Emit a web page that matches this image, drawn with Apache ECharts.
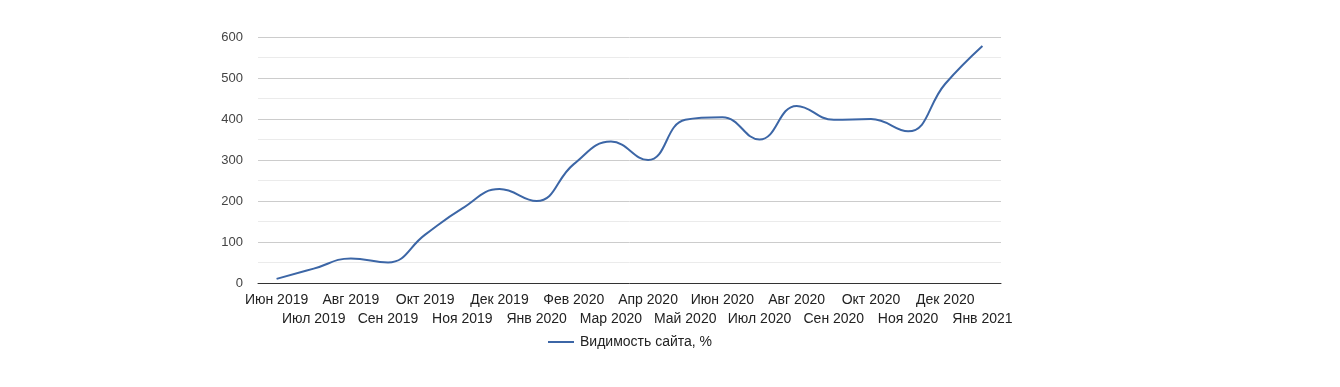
<!DOCTYPE html>
<html>
<head>
<meta charset="utf-8">
<script src="https://cdn.jsdelivr.net/npm/echarts@6/dist/echarts.min.js"></script>
<style>
html,body{margin:0;padding:0;background:#fff;}
#c{width:1340px;height:387px;}
</style>
</head>
<body>
<div id="c"></div>
<script>
const categories = ['Июн 2019','Июл 2019','Авг 2019','Сен 2019','Окт 2019','Ноя 2019','Дек 2019','Янв 2020','Фев 2020','Мар 2020','Апр 2020','Май 2020','Июн 2020','Июл 2020','Авг 2020','Сен 2020','Окт 2020','Ноя 2020','Дек 2020','Янв 2021'];
const visibility = [10, 35, 60, 50, 118, 182, 229, 200, 290, 345, 300, 398, 404, 350, 432, 398, 400, 370, 486, 578];
const seriesName = 'Видимость сайта, %';

const chart = echarts.init(document.getElementById('c'), null, {renderer: 'canvas'});
chart.setOption({
  animation: false,
  backgroundColor: '#fff',
  textStyle: {fontFamily: 'Arial, "Liberation Sans", sans-serif'},
  grid: {left: 258, right: 339, top: 37, bottom: 104, containLabel: false},
  xAxis: {
    type: 'category',
    data: categories,
    boundaryGap: true,
    axisLine: {show: true, lineStyle: {color: '#333', width: 1}},
    axisTick: {show: false},
    axisLabel: {
      interval: 0,
      color: '#222',
      fontSize: 14,
      lineHeight: 19,
      margin: 8,
      formatter: function (v, i) { return i % 2 === 1 ? '\n' + v : v; }
    },
    splitLine: {show: false}
  },
  yAxis: {
    type: 'value',
    min: 0, max: 600, interval: 100,
    axisLine: {show: false},
    axisTick: {show: false},
    axisLabel: {color: '#444', fontSize: 13, margin: 15},
    splitLine: {show: true, lineStyle: {color: '#cccccc', width: 1}},
    minorTick: {show: false, splitNumber: 2},
    minorSplitLine: {show: true, lineStyle: {color: '#ebebeb', width: 1}}
  },
  legend: {
    show: true,
    left: 548,
    top: 335,
    padding: 0,
    itemWidth: 26,
    itemHeight: 14,
    itemGap: 10,
    textStyle: {color: '#222', fontSize: 14, padding: [0, 0, 0, 1]},
    data: [{name: seriesName, icon: 'path://M0,6 L26,6 L26,8 L0,8 Z'}]
  },
  series: [{
    name: seriesName,
    type: 'line',
    data: visibility,
    smooth: 0.45,
    symbol: 'none',
    lineStyle: {color: '#3c66a6', width: 2},
    itemStyle: {color: '#3c66a6'}
  }]
});
</script>
</body>
</html>
